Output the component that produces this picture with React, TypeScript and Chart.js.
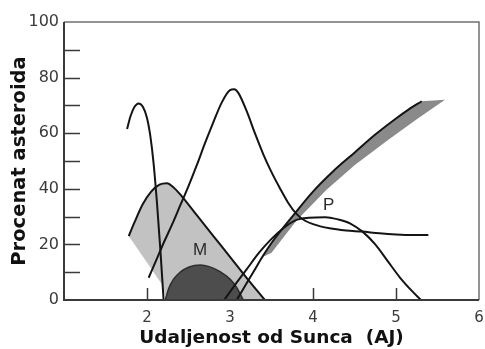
import React, { useEffect, useRef } from 'react';
import { Chart, registerables } from 'chart.js';

Chart.register(...registerables);

// ---------- data ----------
const xTickValues = [2, 3, 4, 5, 6];
const yTickValues = [0, 20, 40, 60, 80, 100];
const yInnerTicks = [10, 20, 30, 40, 50, 60, 70, 80, 90];
const xInnerTicks = [2, 3, 4, 5];

const xTitle = 'Udaljenost od Sunca  (AJ)';
const yTitle = 'Procenat asteroida';

// early narrow peak curve
const curveAX = [1.76, 1.8, 1.85, 1.9, 1.95, 2.0, 2.04, 2.08, 2.12, 2.16, 2.2];
const curveAY = [61.5, 66, 69.5, 70.7, 69.5, 65.5, 59, 49, 35, 18.5, 0];

// tall curve peaking near 3 AU
const curveBX = [2.02, 2.1, 2.2, 2.3, 2.4, 2.5, 2.6, 2.7, 2.8, 2.9, 3.0, 3.05, 3.1, 3.2, 3.3, 3.4, 3.5, 3.6, 3.7, 3.8, 3.9, 4.0, 4.2, 4.4, 4.59, 4.8, 5.0, 5.2, 5.39];
const curveBY = [8, 13.5, 20.5, 27, 34, 41, 48.5, 56.5, 64, 71, 75.5, 75.8, 74.5, 68, 60, 52.5, 46, 40.3, 35, 31, 28.6, 27.3, 25.8, 25, 24.6, 24, 23.6, 23.4, 23.4];

// light grey region (top edge)
const lightTopX = [1.78, 1.85, 1.95, 2.05, 2.15, 2.24, 2.32, 2.4, 2.6, 2.8, 3.0, 3.2, 3.42];
const lightTopY = [23, 28, 34.5, 39, 41.5, 42, 40.5, 38, 30.5, 23, 15.5, 8, 0];
// light grey region (lower-left edge)
const lightBaseX = [3.42, 2.22, 2.2, 1.78];
const lightBaseY = [0, 0, 4.8, 23];

// dark "M" region
const darkMX = [2.22, 2.26, 2.32, 2.4, 2.5, 2.64, 2.75, 2.88, 3.0, 3.08, 3.16];
const darkMY = [0, 4, 7.5, 10, 11.8, 12.6, 12, 10.2, 7.5, 4.5, 0];

// "P" band: upper (black) edge
const bandTopX = [3.08, 3.2, 3.3, 3.4, 3.5, 3.75, 4.0, 4.25, 4.5, 4.75, 5.0, 5.15, 5.31];
const bandTopY = [0, 6, 11, 16, 20.5, 30, 39, 46.5, 53, 59.5, 65.3, 68.5, 71.5];
// "P" band: grey fill outline (start end, then lower edge back)
const bandFillX = [3.36, 3.4, 3.5, 3.75, 4.0, 4.25, 4.5, 4.75, 5.0, 5.15, 5.31, 5.59, 5.25, 4.9, 4.5, 4.16, 3.8, 3.5, 3.36];
const bandFillY = [15, 16, 20.5, 30, 39, 46.5, 53, 59.5, 65.3, 68.5, 71.5, 72, 65, 57.5, 48.5, 39.6, 28.5, 17, 15];

// "P" curve
const curvePX = [2.93, 3.05, 3.2, 3.35, 3.5, 3.65, 3.8, 3.95, 4.15, 4.3, 4.45, 4.6, 4.75, 4.9, 5.05, 5.2, 5.3];
const curvePY = [0, 5, 11, 17, 22, 26, 28.8, 29.6, 29.8, 29, 27.5, 24.5, 20, 14, 8, 3, 0];

// region labels
const labelTexts = ['M', 'P'];
const labelX = [2.64, 4.19];
const labelY = [18, 34.2];

// ---------- helpers ----------
const zip = (xs: number[], ys: number[]) => xs.map((x, i) => ({ x, y: ys[i] }));

const AXIS = '#3a3a3a';

const innerTicksPlugin = {
  id: 'innerTicks',
  beforeDatasetsDraw(chart: any) {
    const { ctx, chartArea, scales } = chart;
    ctx.save();
    ctx.strokeStyle = AXIS;
    ctx.lineWidth = 1.5;
    ctx.beginPath();
    yInnerTicks.forEach((v) => {
      const y = Math.round(scales.y.getPixelForValue(v)) + 0.5;
      ctx.moveTo(chartArea.left, y);
      ctx.lineTo(chartArea.left + 16, y);
    });
    xInnerTicks.forEach((v) => {
      const x = Math.round(scales.x.getPixelForValue(v)) + 0.5;
      ctx.moveTo(x, chartArea.bottom);
      ctx.lineTo(x, chartArea.bottom - 12);
    });
    ctx.stroke();
    ctx.restore();
  },
};

const framePlugin = {
  id: 'frame',
  afterDatasetsDraw(chart: any) {
    const { ctx, chartArea } = chart;
    const { left, right, top, bottom } = chartArea;
    ctx.save();
    ctx.lineWidth = 1.5;
    ctx.strokeStyle = '#707070';
    ctx.beginPath();
    ctx.moveTo(left, top);
    ctx.lineTo(right, top);
    ctx.lineTo(right, bottom);
    ctx.stroke();
    ctx.strokeStyle = AXIS;
    ctx.lineWidth = 2;
    ctx.beginPath();
    ctx.moveTo(left, top);
    ctx.lineTo(left, bottom);
    ctx.lineTo(right, bottom);
    ctx.stroke();
    ctx.restore();
  },
};

const labelPlugin = {
  id: 'regionLabels',
  afterDatasetsDraw(chart: any) {
    const { ctx, scales } = chart;
    ctx.save();
    ctx.fillStyle = '#2a2a2a';
    ctx.font = '17px "Liberation Sans", Arial, sans-serif';
    ctx.textAlign = 'center';
    ctx.textBaseline = 'middle';
    labelTexts.forEach((t, i) => {
      ctx.fillText(t, scales.x.getPixelForValue(labelX[i]), scales.y.getPixelForValue(labelY[i]));
    });
    ctx.restore();
  },
};

export default function App() {
  const ref = useRef<HTMLCanvasElement>(null);

  useEffect(() => {
    document.body.style.margin = '0';
    const line = (xs: number[], ys: number[], order: number) => ({
      data: zip(xs, ys),
      borderColor: '#141414',
      borderWidth: 2,
      pointRadius: 0,
      fill: false,
      cubicInterpolationMode: 'monotone' as const,
      order,
    });
    const chart = new Chart(ref.current!, {
      type: 'line',
      data: {
        datasets: [
          line(curveAX, curveAY, 1),
          line(curveBX, curveBY, 2),
          line(lightTopX, lightTopY, 3),
          line(curvePX, curvePY, 4),
          line(bandTopX, bandTopY, 5),
          {
            data: zip(darkMX, darkMY),
            borderColor: '#2e2e2e',
            borderWidth: 1.5,
            backgroundColor: '#4d4d4d',
            pointRadius: 0,
            fill: 'origin',
            cubicInterpolationMode: 'monotone',
            order: 8,
          },
          {
            data: zip(bandFillX, bandFillY),
            borderWidth: 0,
            borderColor: 'rgba(0,0,0,0)',
            backgroundColor: '#8a8a8a',
            pointRadius: 0,
            fill: 'shape',
            tension: 0,
            order: 9,
          },
          {
            data: zip(lightTopX.concat(lightBaseX), lightTopY.concat(lightBaseY)),
            borderWidth: 0,
            borderColor: 'rgba(0,0,0,0)',
            backgroundColor: '#c2c2c2',
            pointRadius: 0,
            fill: 'shape',
            tension: 0,
            order: 10,
          },
        ] as any,
      },
      options: {
        responsive: false,
        animation: false,
        events: [],
        layout: { padding: { top: 22, right: 6, left: 0, bottom: 0 } },
        plugins: { legend: { display: false }, tooltip: { enabled: false } },
        scales: {
          x: {
            type: 'linear',
            min: 1,
            max: 6,
            afterFit: (s: any) => { s.height = 49; s.paddingLeft = 0; s.paddingRight = 0; },
            afterBuildTicks: (s: any) => { s.ticks = xTickValues.map((v) => ({ value: v })); },
            grid: { display: false, drawTicks: false },
            border: { display: false },
            ticks: {
              color: AXIS,
              font: { family: '"DejaVu Sans", sans-serif', size: 15 },
              padding: 9,
              autoSkip: false,
              maxRotation: 0,
            },
            title: {
              display: true,
              text: xTitle,
              color: '#111',
              font: { family: '"DejaVu Sans", sans-serif', size: 18.5, weight: 'bold' },
              padding: { top: 0, bottom: 0 },
            },
          },
          y: {
            min: 0,
            max: 100,
            afterFit: (s: any) => { s.width = 64; },
            afterBuildTicks: (s: any) => { s.ticks = yTickValues.map((v) => ({ value: v })); },
            grid: { display: false, drawTicks: false },
            border: { display: false },
            ticks: {
              color: AXIS,
              font: { family: '"DejaVu Sans", sans-serif', size: 16 },
              padding: 5,
            },
            title: {
              display: true,
              text: yTitle,
              color: '#111',
              font: { family: '"DejaVu Sans", sans-serif', size: 19.5, weight: 'bold' },
              padding: { top: 8, bottom: 0 },
            },
          },
        },
      },
      plugins: [innerTicksPlugin, framePlugin, labelPlugin],
    });
    return () => chart.destroy();
  }, []);

  return <canvas ref={ref} width={485} height={349} style={{ display: 'block' }} />;
}
